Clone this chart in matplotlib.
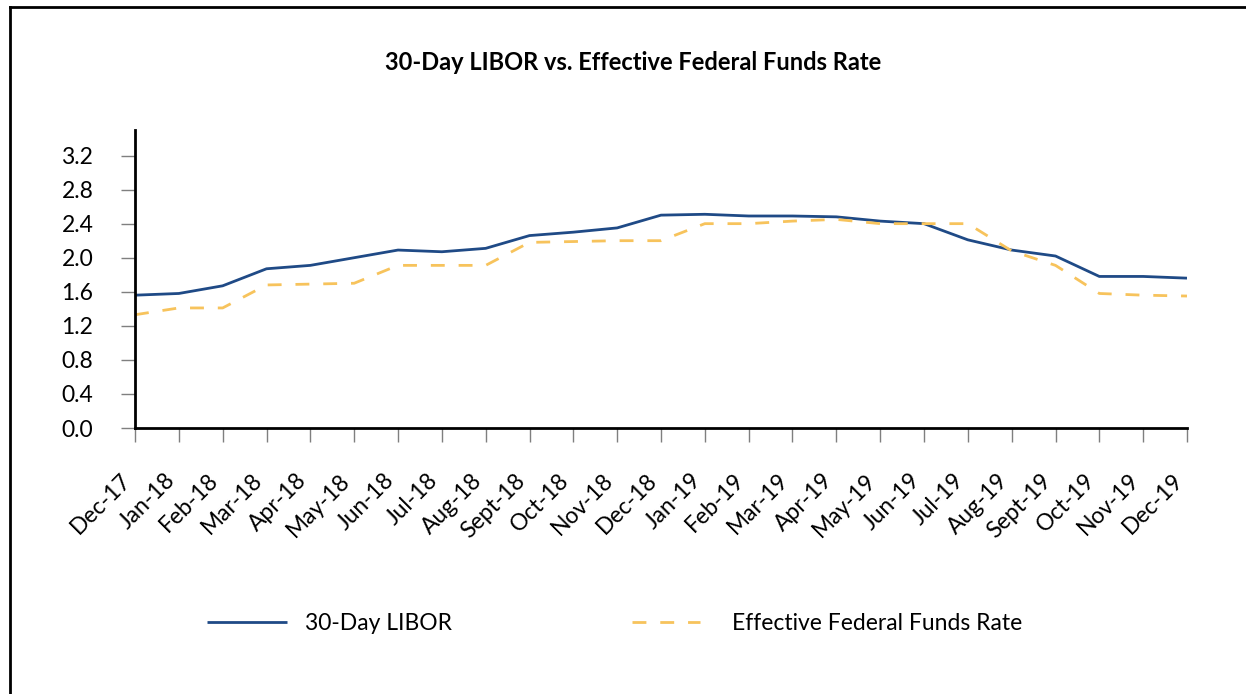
import matplotlib
matplotlib.use("Agg")
import matplotlib.pyplot as plt
from matplotlib.lines import Line2D

# ── Data ─────────────────────────────────────────────
months = ["Dec-17", "Jan-18", "Feb-18", "Mar-18", "Apr-18", "May-18", "Jun-18",
          "Jul-18", "Aug-18", "Sept-18", "Oct-18", "Nov-18", "Dec-18",
          "Jan-19", "Feb-19", "Mar-19", "Apr-19", "May-19", "Jun-19",
          "Jul-19", "Aug-19", "Sept-19", "Oct-19", "Nov-19", "Dec-19"]
libor = [1.56, 1.58, 1.67, 1.87, 1.91, 2.00, 2.09, 2.07, 2.11, 2.26, 2.30, 2.35, 2.50,
         2.51, 2.49, 2.49, 2.48, 2.43, 2.40, 2.21, 2.09, 2.02, 1.78, 1.78, 1.76]
effr = [1.33, 1.41, 1.41, 1.68, 1.69, 1.70, 1.91, 1.91, 1.91, 2.18, 2.19, 2.20, 2.20,
        2.40, 2.40, 2.43, 2.45, 2.40, 2.40, 2.40, 2.08, 1.91, 1.58, 1.56, 1.55]
y_ticks = [0.0, 0.4, 0.8, 1.2, 1.6, 2.0, 2.4, 2.8, 3.2]

C_LIBOR = "#1f4a86"
C_EFFR = "#f7c35c"
FONT = "Lato"

plt.rcParams["font.family"] = [FONT, "DejaVu Sans"]

W, H = 1246, 694
fig = plt.figure(figsize=(W / 100, H / 100), dpi=100)
ax = fig.add_axes([135 / W, 1 - 428 / H, (1187 - 135) / W, (428 - 130) / H])

x = list(range(len(months)))
ax.plot(x, libor, color=C_LIBOR, lw=2.0, label="30-Day LIBOR", solid_capstyle="butt")
ax.plot(x, effr, color=C_EFFR, lw=2.0, dashes=(5, 5), label="Effective Federal Funds Rate")

ax.set_xlim(0, len(months) - 1)
ax.set_ylim(0, 3.5)
ax.set_yticks(y_ticks)
ax.set_yticklabels([f"{v:.1f}" for v in y_ticks])
ax.set_xticks(x)
ax.set_xticklabels(months, rotation=45, ha="right")

for s in ["top", "right"]:
    ax.spines[s].set_visible(False)
for s in ["left", "bottom"]:
    ax.spines[s].set_linewidth(2.0)
    ax.spines[s].set_color("black")
ax.tick_params(axis="both", length=10, width=1, color="#7f7f7f", labelsize=16.5)
ax.tick_params(axis="y", pad=20)
ax.tick_params(axis="x", pad=20)

fig.text(633 / W, 1 - 62 / H, "30-Day LIBOR vs. Effective Federal Funds Rate",
         ha="center", va="center", fontsize=17, fontweight="bold")

# legend: two single-entry legends placed at the handle starts
h1, h2 = ax.get_lines()
fig.legend(handles=[h1], loc="center left", bbox_to_anchor=(207 / W, 1 - 624 / H),
           frameon=False, fontsize=16.5, handlelength=80 / 23, handletextpad=0.8,
           borderpad=0, borderaxespad=0)
fig.legend(handles=[h2], loc="center left", bbox_to_anchor=(632 / W, 1 - 624 / H),
           frameon=False, fontsize=16.5, handlelength=68 / 23, handletextpad=1.4,
           borderpad=0, borderaxespad=0)

# outer frame (top and left edges only)
fig.add_artist(Line2D([10 / W, 1], [1 - 7 / H, 1 - 7 / H], color="black", lw=2,
                      transform=fig.transFigure))
fig.add_artist(Line2D([10 / W, 10 / W], [0, 1 - 7 / H], color="black", lw=2,
                      transform=fig.transFigure))

fig.savefig("out.png", dpi=100, facecolor="white")
